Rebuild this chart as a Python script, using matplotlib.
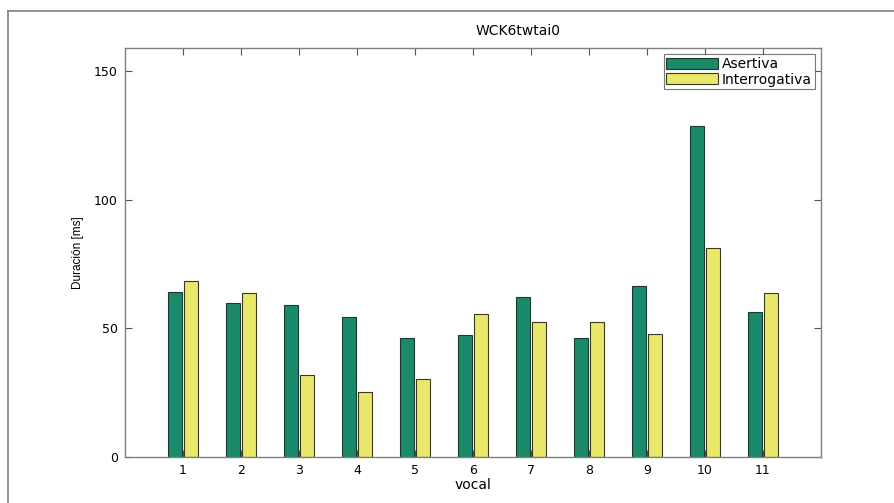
import numpy as np
import matplotlib.pyplot as plt
from matplotlib.lines import Line2D

plt.rcParams['font.family'] = ['DejaVu Sans']

vocales = [1, 2, 3, 4, 5, 6, 7, 8, 9, 10, 11]
asertiva = [64, 60, 59, 54.5, 46.3, 47.5, 62.3, 46.2, 66.4, 128.8, 56.5]
interrogativa = [68.5, 63.6, 31.8, 25.4, 30.3, 55.5, 52.5, 52.5, 47.8, 81.2, 63.6]

fig = plt.figure(figsize=(8.94, 5.03), dpi=100)
ax = fig.add_axes([0.1398, 0.0915, 0.7785, 0.8131])

x = np.array(vocales)
ax.bar(x - 0.14, asertiva, width=0.24, color='#1b8a6b', edgecolor='#1a3a30',
       linewidth=0.8, label='Asertiva')
ax.bar(x + 0.14, interrogativa, width=0.23, color='#e9e86a', edgecolor='#3a3a20',
       linewidth=0.8, label='Interrogativa')

ax.set_xlim(0, 12)
ax.set_ylim(0, 159)
ax.set_xticks(vocales)
ax.set_yticks([0, 50, 100, 150])
ax.tick_params(direction='in', length=5, width=0.8, color='#555555',
               top=True, right=True, labelsize=9, pad=5)
for s in ax.spines.values():
    s.set_color('#808080')
    s.set_linewidth(1.0)

ax.text(0.565, 1.025, 'WCK6twtai0', transform=ax.transAxes, ha='center',
        va='bottom', fontsize=10)
ax.set_xlabel('vocal', fontsize=10, labelpad=1)
ax.set_ylabel('Duración [ms]', fontsize=8.5, family='Liberation Sans', labelpad=7)

leg = ax.legend(loc='upper right', fontsize=10, frameon=True, fancybox=False,
                handlelength=3.7, handleheight=0.85, borderpad=0.2,
                labelspacing=0.12, handletextpad=0.3, borderaxespad=0.45)
leg.get_frame().set_edgecolor('#555555')
leg.get_frame().set_linewidth(0.8)

# marco exterior
fig.add_artist(Line2D([8 / 894, 8 / 894], [0, 1 - 11 / 503], color='#808080', lw=1.2))
fig.add_artist(Line2D([8 / 894, 1], [1 - 11 / 503, 1 - 11 / 503], color='#808080', lw=1.2))

fig.savefig('out.png', dpi=100)
